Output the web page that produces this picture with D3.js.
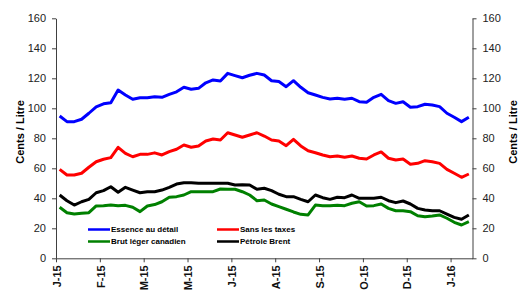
<!DOCTYPE html>
<html>
<head>
<meta charset="utf-8">
<script src="https://cdn.jsdelivr.net/npm/d3@7"></script>
<style>
  body { margin: 0; background: #fff; }
  svg { display: block; font-family: "Liberation Sans", Arial, sans-serif; }
  .axis path, .axis line { stroke: #404040; stroke-width: 1; }
  .axis text { fill: #222; font-size: 11px; }
  .xaxis text { font-weight: bold; fill: #111; }
</style>
</head>
<body>
<svg id="chart" width="520" height="291"></svg>
<script>
// weekly prices, cents per litre
const retail = [94.9, 91.1, 91.1, 92.7, 96.7, 101, 103, 103.7, 112.2, 108.9,
  106, 107, 107, 107.7, 107.3, 109.3, 111, 114, 112.7, 113.3,
  117, 118.9, 118.2, 123.3, 121.8, 120.4, 122, 123.3, 122.2, 118.4,
  117.8, 114.4, 118.4, 114, 110.4, 108.9, 107.3, 106.2, 106.7, 106,
  106.7, 104.4, 104, 107.3, 109.3, 105.1, 103.3, 104.4, 100.7, 101.1,
  102.7, 102.2, 101.1, 96.7, 94, 91.1, 94];
const noTax = [59.3, 55.5, 55.5, 56.7, 60.7, 64.4, 66, 67.1, 74, 70,
  67.7, 69.3, 69.3, 70.3, 68.9, 71.1, 72.7, 75.5, 74, 74.9,
  78.2, 79.5, 78.9, 83.7, 82.2, 80.7, 82.2, 83.7, 81.5, 78.9,
  78.2, 75.1, 79.3, 74.9, 71.7, 70.4, 68.9, 67.7, 68.2, 67.3,
  68.2, 66.7, 66.2, 68.9, 70.9, 66.7, 65.5, 66.2, 62.7, 63.3,
  65.1, 64.4, 63.3, 59.3, 56.7, 54, 56.2];
const canLight = [34, 30.4, 29.5, 30, 30.4, 34.9, 35.1, 35.5, 35.1, 35.3,
  34, 31.1, 34.9, 35.8, 37.7, 40.7, 41.1, 42.2, 44.4, 44.4,
  44.4, 44.4, 46.2, 46, 46, 44.4, 42.2, 38.4, 38.9, 36.2,
  34.4, 32.7, 30.9, 29.3, 28.9, 35.5, 35.1, 35.1, 35.3, 35.1,
  36.7, 37.7, 34.9, 35.1, 36.2, 33.3, 31.7, 31.7, 31.1, 28.4,
  27.7, 28.2, 28.9, 26.7, 24, 22.2, 24.4];
const brent = [42.2, 38.4, 35.5, 37.7, 39.3, 43.7, 45.1, 47.7, 44, 47.3,
  45.5, 43.7, 44.4, 44.4, 45.5, 47.3, 49.5, 50.4, 50.4, 50,
  50, 50, 50, 50, 48.9, 49.1, 48.9, 46, 46.7, 45.1,
  42.7, 41.1, 41.1, 39.3, 37.7, 42.2, 40.4, 39.3, 40.7, 40.4,
  42.2, 40, 40, 40, 40.7, 38.4, 37.1, 38.2, 36.2, 33.3,
  32.2, 31.7, 31.7, 29.5, 27.3, 26, 28.9];

// one label every 6 weeks
const tickLabels = ["J-15", "F-15", "M-15", "M-15", "J-15", "A-15", "S-15", "O-15", "D-15", "J-16"];
const seriesNames = ["Essence au détail", "Sans les taxes", "Brut léger canadien", "Pétrole Brent"];
const seriesColors = ["#0000ff", "#ff0000", "#008000", "#000000"];
const yTitle = "Cents / Litre";

const svg = d3.select("#chart");
const plotL = 56, plotR = 472.5, plotT = 18.3, plotB = 258.3;
const n = retail.length;

const x = d3.scaleLinear().domain([0, n]).range([plotL, plotR]);
const y = d3.scaleLinear().domain([0, 160]).range([plotB, plotT]);

// y axes, both sides
svg.append("g")
  .attr("class", "axis")
  .attr("transform", "translate(" + plotL + ",0)")
  .call(d3.axisLeft(y).tickValues(d3.range(0, 161, 20)).tickSize(4).tickSizeOuter(0).tickPadding(6));

svg.append("g")
  .attr("class", "axis")
  .attr("transform", "translate(" + plotR + ",0)")
  .call(d3.axisRight(y).tickValues(d3.range(0, 161, 20)).tickSize(4).tickSizeOuter(0).tickPadding(6));

// x axis, labels rotated
const xAxis = svg.append("g")
  .attr("class", "axis xaxis")
  .attr("transform", "translate(0," + plotB + ")")
  .call(d3.axisBottom(x)
    .tickValues(tickLabels.map((d, i) => i * 6))
    .tickFormat((d) => tickLabels[d / 6])
    .tickSize(4)
    .tickSizeOuter(0));

xAxis.selectAll("text")
  .attr("transform", "rotate(-90)")
  .attr("text-anchor", "end")
  .attr("x", -7)
  .attr("y", 0)
  .attr("dy", "0.38em");

// axis titles
svg.append("text")
  .attr("transform", "translate(24,132) rotate(-90)")
  .attr("text-anchor", "middle")
  .style("font-size", "11px")
  .style("font-weight", "bold")
  .text(yTitle);

svg.append("text")
  .attr("transform", "translate(517,132) rotate(-90)")
  .attr("text-anchor", "middle")
  .style("font-size", "11px")
  .style("font-weight", "bold")
  .text(yTitle);

// lines
const line = d3.line()
  .x((d, i) => x(i + 0.5))
  .y((d) => y(d));

[retail, noTax, canLight, brent].forEach((s, k) => {
  svg.append("path")
    .datum(s)
    .attr("fill", "none")
    .attr("stroke", seriesColors[k])
    .attr("stroke-width", 3)
    .attr("stroke-linejoin", "round")
    .attr("d", line);
});

// legend
const legendPos = [[88, 229.5], [217, 229.5], [88, 241.5], [217, 241.5]];
seriesNames.forEach((name, k) => {
  const g = svg.append("g")
    .attr("transform", "translate(" + legendPos[k][0] + "," + legendPos[k][1] + ")");
  g.append("line")
    .attr("x1", 0).attr("x2", 22)
    .attr("stroke", seriesColors[k])
    .attr("stroke-width", 2.5);
  g.append("text")
    .attr("x", 23)
    .attr("dy", "0.35em")
    .style("font-size", "8px")
    .style("font-weight", "bold")
    .text(name);
});
</script>
</body>
</html>
